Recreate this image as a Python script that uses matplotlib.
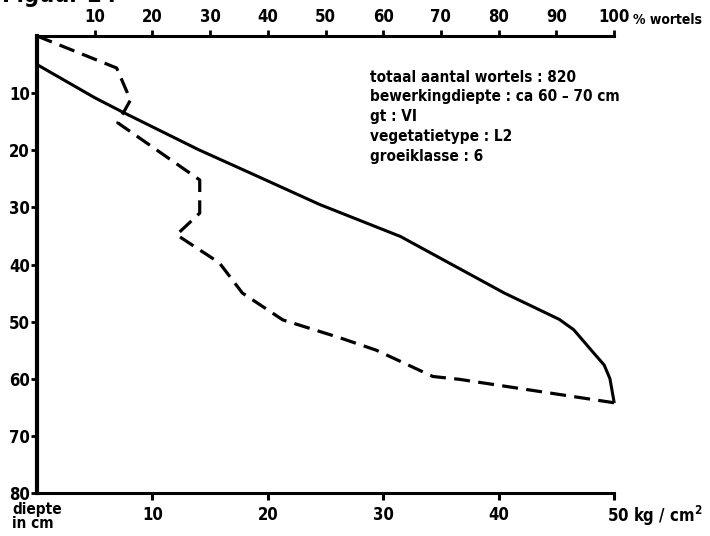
import matplotlib
matplotlib.use("Agg")
import matplotlib.pyplot as plt

# Data
depth_ticks = [10, 20, 30, 40, 50, 60, 70, 80]
kg_ticks = [10, 20, 30, 40]
pct_ticks = [10, 20, 30, 40, 50, 60, 70, 80, 90]

# cumulative % roots (solid line, top axis)
solid_pct = [0, 10, 15, 28, 37, 49, 63, 73, 81, 87, 90.5, 93, 96.4, 98.3, 99.3, 100]
solid_depth = [5, 10.8, 13.4, 19.9, 24, 29.5, 35.1, 40.6, 45, 47.9, 49.6, 51.4, 55.4, 57.6, 60, 64]

# kg / cm2 (dashed line, bottom axis)
dash_kg = [0, 6.9, 8.1, 7.0, 14.1, 14.1, 12.1, 15.8, 17.8, 21.3, 26.2, 29.4, 34.3, 36.6, 50]
dash_depth = [0, 5.6, 11.2, 15.2, 25.2, 31, 34.8, 39.7, 45, 49.7, 52.8, 55, 59.6, 60.1, 64.2]

info_lines = ["totaal aantal wortels : 820",
              "bewerkingdiepte : ca 60 \u2013 70 cm",
              "gt : VI",
              "vegetatietype : L2",
              "groeiklasse : 6"]

plt.rcParams['font.family'] = ['DejaVu Sans']
plt.rcParams['font.stretch'] = 'condensed'
plt.rcParams['font.weight'] = 'bold'
plt.rcParams['mathtext.fontset'] = 'dejavusans'

TS = 12

fig = plt.figure(figsize=(7.10, 5.36), dpi=100)
ax = fig.add_axes([37/710, 1 - 493/536, (614 - 37)/710, (493 - 36)/536])
ax.set_xlim(0, 50)
ax.set_ylim(80, 0)

ax.plot(dash_kg, dash_depth, color='black', lw=2.3, linestyle=(0, (5, 2.6)),
        solid_capstyle='butt', clip_on=False)

ax2 = ax.twiny()
ax2.set_xlim(0, 100)
ax2.set_ylim(80, 0)
ax2.plot(solid_pct, solid_depth, color='black', lw=2.2, clip_on=False,
         solid_joinstyle='round')

for a in (ax, ax2):
    a.spines['right'].set_visible(False)
ax.spines['left'].set_linewidth(3)
ax.spines['bottom'].set_linewidth(2.2)
ax2.spines['top'].set_linewidth(2.2)
ax.spines['top'].set_visible(False)
ax2.spines['bottom'].set_visible(False)
ax2.spines['left'].set_visible(False)

ax.set_xticks(kg_ticks + [50])
ax.set_xticklabels([str(v) for v in kg_ticks] + [""], fontsize=TS, fontweight='bold')
ax.tick_params(axis='x', direction='out', length=5, width=2.2, pad=4)

ax.set_yticks(depth_ticks)
ax.set_yticklabels([str(v) for v in depth_ticks], fontsize=TS, fontweight='bold')
ax.tick_params(axis='y', direction='out', length=4, width=2, pad=1)

ax2.set_xticks(pct_ticks + [100])
ax2.set_xticklabels([str(v) for v in pct_ticks] + ["100"], fontsize=TS, fontweight='bold')
ax2.tick_params(axis='x', direction='out', length=4, width=2, pad=3)

ax.text(49.4, 81.9, "50 kg / cm$^{2}$", fontsize=TS, fontweight='bold', ha='left', va='top')
ax2.text(103.3, -1.5, "% wortels", fontsize=10, fontweight='bold', ha='left', va='bottom')

fig.text(12/710, 1 - 502/536, "diepte\nin cm", fontsize=11, fontweight='bold',
         ha='left', va='top', linespacing=0.95)

for i, line in enumerate(info_lines):
    fig.text(370/710, 1 - (77 + 20*i)/536, line, fontsize=11, fontweight='bold',
             ha='left', va='center')

fig.text(2/710, 1 + 17/536, "Figuur 24", fontsize=17, fontweight='bold', ha='left', va='top')

fig.savefig("out.png", dpi=100)
